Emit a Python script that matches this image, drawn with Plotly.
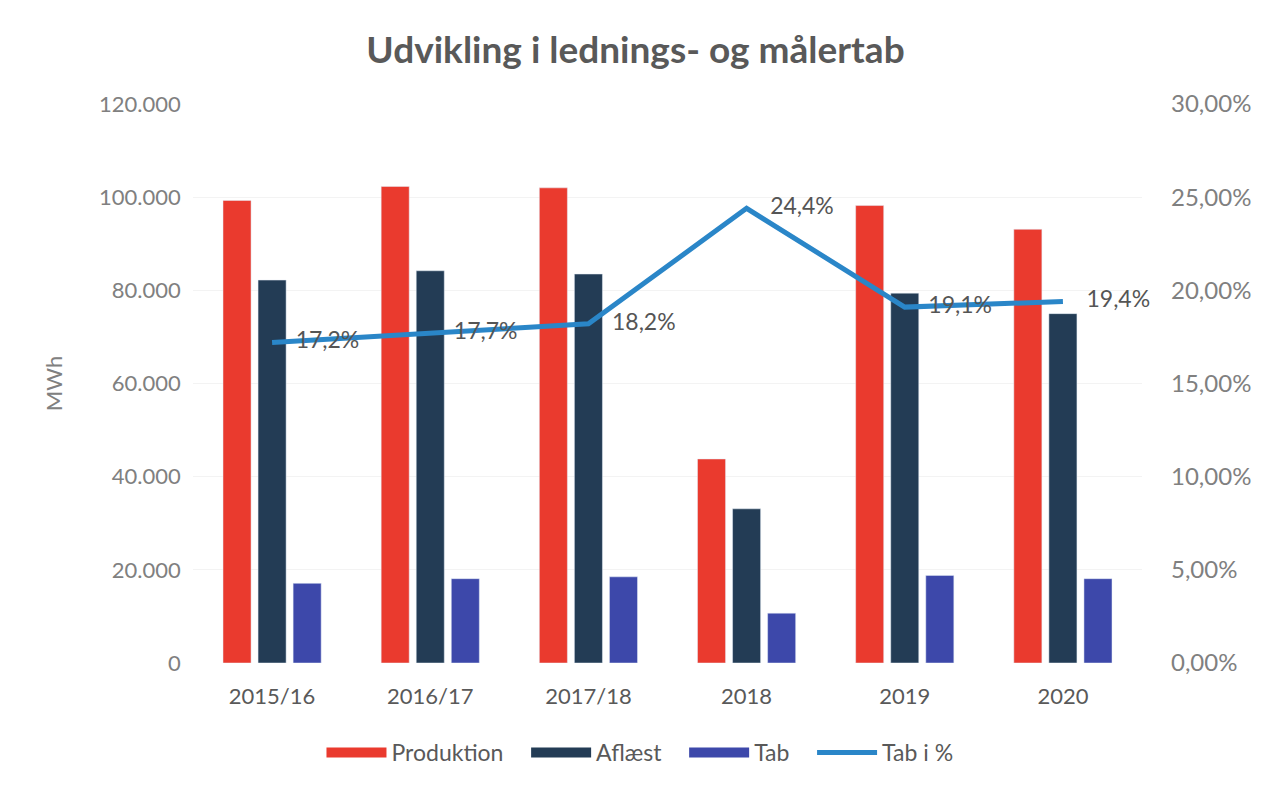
import plotly.graph_objects as go

years = ['2015/16', '2016/17', '2017/18', '2018', '2019', '2020']
produktion = [99300, 102300, 102000, 43800, 98200, 93100]
aflaest = [82200, 84200, 83500, 33100, 79400, 75000]
tab = [17100, 18100, 18500, 10700, 18800, 18100]
tab_pct = [0.172, 0.177, 0.182, 0.244, 0.191, 0.194]

FONT = 'Lato'
GREY = '#808080'
RED, NAVY, BLUE, LINE = '#EA3A2E', '#233C55', '#3D48AA', '#2A86C8'

fig = go.Figure()
# bars (legend drawn with wide swatches below)
fig.add_trace(go.Bar(x=years, y=produktion, name='Produktion', marker_color=RED, showlegend=False))
fig.add_trace(go.Bar(x=years, y=aflaest, name='Aflæst', marker_color=NAVY, showlegend=False))
fig.add_trace(go.Bar(x=years, y=tab, name='Tab', marker_color=BLUE, showlegend=False))
fig.add_trace(go.Scatter(x=years, y=tab_pct, name='Tab i %', yaxis='y2',
                         mode='lines+text', line=dict(color=LINE, width=5), showlegend=False,
                         text=['    ' + f'{v * 100:.1f}%'.replace('.', ',') for v in tab_pct],
                         textposition='middle right', cliponaxis=False,
                         textfont=dict(family=FONT, size=23, color='#555555')))

# legend entries
for name, col, w in [('Produktion   ', RED, 16), ('Aflæst   ', NAVY, 16), ('Tab   ', BLUE, 16),
                     ('Tab i %', LINE, 5)]:
    fig.add_trace(go.Scatter(x=[None], y=[None], mode='lines', name=name,
                             line=dict(color=col, width=w)))

fig.update_layout(
    title=dict(text='<b>Udvikling i lednings- og målertab</b>', x=0.5, xanchor='center',
               y=0.946, yanchor='middle',
               font=dict(family=FONT, size=37, color='#595959')),
    separators=',.',
    barmode='group', bargap=0.335, bargroupgap=0.2,
    width=1255, height=778,
    margin=dict(l=185, r=121, t=96, b=119),
    paper_bgcolor='white', plot_bgcolor='white',
    font=dict(family=FONT, size=22, color=GREY),
    xaxis=dict(tickfont=dict(size=22, color='#595959'), showline=False, ticks='',
               ticklabelstandoff=18),
    yaxis=dict(range=[0, 120000], dtick=20000, tickformat=',d', gridcolor='#f3f3f3',
               zeroline=False, tickfont=dict(size=22, color=GREY),
               title=dict(text='MWh', standoff=30, font=dict(size=22, color=GREY)),
               ticksuffix='  '),
    yaxis2=dict(range=[0, 0.30], dtick=0.05, tickformat='.2%', overlaying='y', side='right',
                showgrid=False, zeroline=False, ticklabelstandoff=28,
                tickfont=dict(size=24, color=GREY)),
    legend=dict(orientation='h', x=0.471, xanchor='center', y=-0.16, yanchor='middle',
                font=dict(size=23, color='#595959'), itemwidth=60, tracegroupgap=0),
)

fig.write_html('out.html')
